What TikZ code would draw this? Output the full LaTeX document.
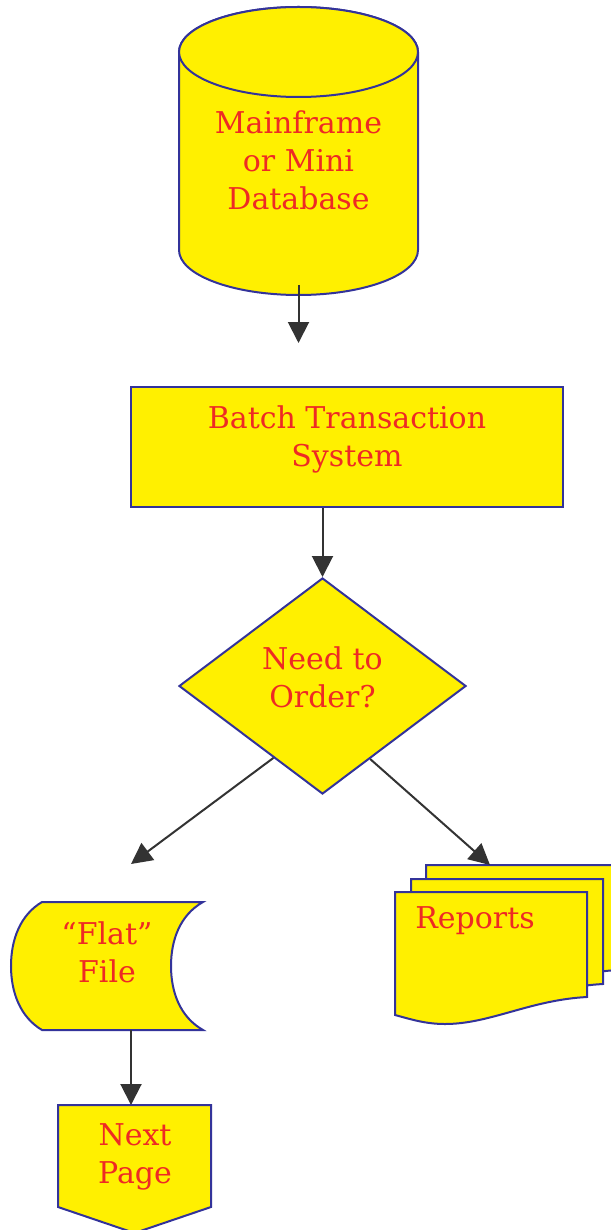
\documentclass[tikz,border=0pt]{standalone}
\usepackage{fontspec}
\setmainfont{DejaVu Serif}
\usetikzlibrary{positioning, arrows.meta, shapes.geometric, calc}
\definecolor{boxfill}{HTML}{FFF000}
\definecolor{boxline}{HTML}{33339A}
\definecolor{txtred}{HTML}{EE2A24}
\definecolor{arrowgray}{HTML}{333333}
\tikzset{box/.style={draw=boxline, fill=boxfill, line width=2pt},
  lbl/.style={text=txtred, align=center, inner sep=0pt, font=\fontsize{30}{38}\selectfont},
  flow/.style={draw=arrowgray, line width=2pt, -{Triangle[length=21pt,width=21pt]}}}

\begin{document}
\begin{tikzpicture}[x=1pt,y=-1pt]
    \useasboundingbox (0,0) rectangle (610,1230);

    % database cylinder
    \path[box] (179,52) -- (179,250) arc[start angle=180, end angle=0, x radius=119.5, y radius=45]
        -- (418,52) arc[start angle=0, end angle=-180, x radius=119.5, y radius=45] -- cycle;
    \path[box] (298.5,52) ellipse [x radius=119.5, y radius=45];
    \node[lbl] (db) at (298.5,160) {Mainframe\\or Mini\\Database};
    \coordinate (dbout) at (298.5,285);
    \coordinate (dbend) at (298.5,343);

    % batch system
    \node[box, minimum width=432pt, minimum height=120pt] (batch) at (347,447) {};
    \node[lbl] (batchtxt) at (347,439) {Batch Transaction\\System};

    % decision
    \node[box, diamond, inner sep=0pt, minimum width=287pt, minimum height=216pt] (order) at (322.5,686) {};
    \node[lbl] (ordertxt) at (322.5,677) {Need to\\Order?};
    \coordinate (leftout) at ($(order.west)!0.66!(order.south)$);
    \coordinate (rightout) at ($(order.east)!0.67!(order.south)$);

    % flat file
    \path[box] (42,902) -- (203,902)
        .. controls (180,915) and (171,940) .. (171,966)
        .. controls (171,992) and (180,1017) .. (203,1030)
        -- (42,1030)
        .. controls (20,1017) and (11,992) .. (11,966)
        .. controls (11,940) and (20,915) .. (42,902) -- cycle;
    \node[lbl] (flat) at (107,952) {``Flat''\\File};
    \coordinate (flattop) at (131,880);
    \coordinate (flatout) at (131,1030);

    % next page
    \path[box] (58,1105) -- (211,1105) -- (211,1207) -- (134.5,1233) -- (58,1207) -- cycle;
    \node[lbl] (next) at (135,1157) {Next\\Page};
    \coordinate (nextin) at (131,1105);

    % reports
    \foreach \dx/\dy in {31/-27,16/-13,0/0}
        \path[box, shift={(\dx,\dy)}] (395,892) -- (587,892) -- (587,997)
            .. controls (530,1000) and (490,1024) .. (445,1024)
            .. controls (425,1024) and (410,1019) .. (395,1015) -- cycle;
    \node[lbl] (rep) at (475,921) {Reports};
    \coordinate (repin) at (490,865);

    % connectors
    \draw[flow] (dbout) -- (dbend);
    \draw[flow] (batch.south -| order.north) -- (order.north);
    \draw[flow] (leftout) -- (flattop |- 0,864);
    \draw[flow] (rightout) -- (repin);
    \draw[flow] (flatout) -- (nextin);
\end{tikzpicture}
\end{document}
